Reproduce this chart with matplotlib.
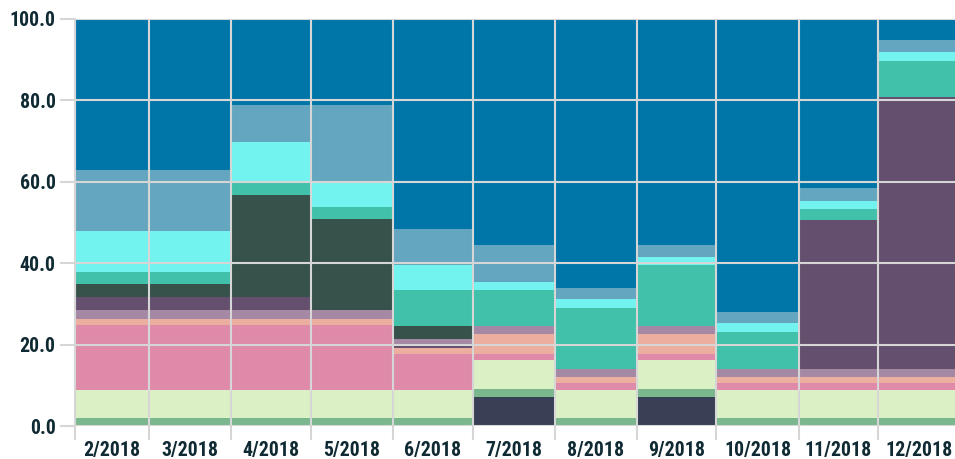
import datetime as dt

import matplotlib
matplotlib.use("Agg")
import matplotlib.pyplot as plt
import matplotlib.dates as mdates
from matplotlib import font_manager
import numpy as np

# months shown (first day of each month) and labels
months = ["2018-02-01", "2018-03-01", "2018-04-01", "2018-05-01", "2018-06-01",
          "2018-07-01", "2018-08-01", "2018-09-01", "2018-10-01", "2018-11-01",
          "2018-12-01"]
labels = ["2/2018", "3/2018", "4/2018", "5/2018", "6/2018", "7/2018",
          "8/2018", "9/2018", "10/2018", "11/2018", "12/2018"]

# share (%) of each series per month, bottom to top
navy      = [0.0, 0.0, 0.0, 0.0, 0.0, 7.1, 0.0, 7.1, 0.0, 0.0, 0.0]
green     = [1.9, 1.9, 1.9, 1.9, 1.9, 1.9, 1.9, 2.0, 1.9, 1.9, 1.9]
lime      = [6.9, 6.9, 6.9, 6.9, 6.9, 7.1, 6.9, 7.0, 6.9, 6.9, 6.9]
pink      = [16.1, 16.1, 16.1, 16.1, 9.0, 1.7, 1.7, 1.7, 1.7, 1.7, 1.7]
salmon    = [1.5, 1.5, 1.5, 1.5, 1.4, 4.7, 1.5, 4.7, 1.5, 1.5, 1.5]
purple_a  = [0.0, 0.0, 0.0, 0.0, 0.4, 0.0, 0.0, 0.0, 0.0, 0.0, 0.0]
mauve     = [2.1, 2.1, 2.1, 2.1, 1.7, 2.0, 2.1, 2.0, 2.1, 2.1, 2.1]
purple    = [3.1, 3.1, 3.1, 0.0, 0.0, 0.0, 0.0, 0.0, 0.0, 36.4, 66.7]
slate     = [3.3, 3.3, 25.2, 22.4, 3.2, 0.0, 0.0, 0.0, 0.0, 0.0, 0.0]
teal      = [3.0, 3.0, 3.1, 2.9, 9.0, 9.0, 14.9, 15.0, 9.0, 2.9, 9.0]
cyan      = [9.9, 9.9, 10.0, 6.1, 6.0, 2.0, 2.1, 2.0, 2.1, 2.0, 2.0]
steel     = [15.0, 15.0, 8.9, 18.9, 8.9, 8.9, 2.9, 2.9, 2.9, 3.0, 3.0]
blue      = [37.2, 37.2, 21.2, 21.2, 51.6, 55.6, 66.0, 55.6, 71.9, 41.6, 5.2]

series = [navy, green, lime, pink, salmon, purple_a, mauve, purple, slate,
          teal, cyan, steel, blue]
colors = ["#393f54", "#7ab78d", "#dcf0c6", "#df8aa9", "#ecae9e", "#64506e",
          "#a488a4", "#64506e", "#36524a", "#41c1aa", "#73f3f0", "#64a6bf",
          "#0076a8"]

text_col = "#0f2a33"
grid_col = "#d6d6d6"


def pick_font():
    # a narrow bold face if one is installed, else Roboto bold
    files = [f.fname for f in font_manager.fontManager.ttflist]
    for key in ["RobotoCondensed-Bold", "LiberationSansNarrow-Bold",
                "DejaVuSansCondensed-Bold", "OpenSans_Condensed-Bold",
                "OpenSansCondensed-Bold"]:
        for fn in files:
            if key.lower() in fn.lower().replace(" ", ""):
                return font_manager.FontProperties(fname=fn)
    return font_manager.FontProperties(family="Roboto", weight="bold")


fp = pick_font()

starts = [dt.datetime.strptime(m, "%Y-%m-%d") for m in months]
ends = starts[1:] + [dt.datetime(2019, 1, 1)]
x0 = mdates.date2num(starts)
x1 = mdates.date2num(ends)
widths = x1 - x0
mids = x0 + widths / 2

fig = plt.figure(figsize=(9.55, 4.59), dpi=100)

# size the labels so "10/2018" is about as wide as in the reference
probe = fig.text(0, 0, "10/2018", fontproperties=fp, size=16)
w = probe.get_window_extent(fig.canvas.get_renderer()).width
probe.remove()
fsize = min(16.5, 16 * 67 / w)

ax = fig.add_axes([75 / 955, 1 - 426 / 459, 880 / 955, 407 / 459])

bottom = np.zeros(len(months))
for vals, col in zip(series, colors):
    vals = np.array(vals)
    ax.bar(x0, vals, width=widths, bottom=bottom, align="edge", color=col,
           linewidth=0, zorder=1)
    bottom += vals

ax.set_xlim(x0[0], x0[0] + 332)
ax.set_ylim(0, 100)

ax.set_yticks(np.arange(0, 101, 20))
ax.set_yticklabels(["%.1f" % v for v in np.arange(0, 101, 20)])
ax.set_xticks(x0)
ax.set_xticklabels([])
ax.set_xticks(mids, minor=True)
ax.set_xticklabels(labels, minor=True)

ax.grid(True, color=grid_col, linewidth=1.5, zorder=3)
ax.set_axisbelow(False)
ax.tick_params(axis="y", length=11, width=1.5, color=grid_col, pad=3,
               labelcolor=text_col)
ax.tick_params(axis="x", which="major", length=10, width=1.5, color=grid_col)
ax.tick_params(axis="x", which="minor", length=0, pad=11,
               labelcolor=text_col)
for lab in ax.get_yticklabels() + ax.get_xticklabels(minor=True):
    lab.set_fontproperties(fp)
    lab.set_fontsize(fsize)

for s in ax.spines.values():
    s.set_visible(False)
ax.spines["left"].set_visible(True)
ax.spines["left"].set_color(grid_col)
ax.spines["left"].set_linewidth(1.5)

fig.savefig("out.png", dpi=100)
